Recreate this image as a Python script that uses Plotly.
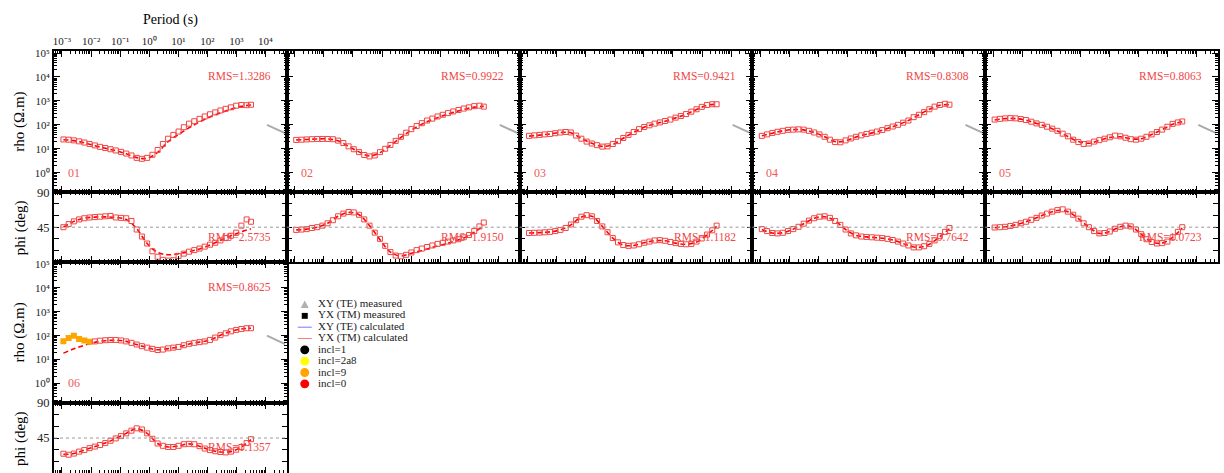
import plotly.graph_objects as go

# ---------------- data (log10 values) ----------------
LOGT = [-2.95, -2.77, -2.59, -2.41, -2.23, -2.05, -1.87, -1.69, -1.51, -1.33, -1.15, -0.97,
        -0.79, -0.61, -0.43, -0.25, -0.07, 0.11, 0.29, 0.47, 0.65, 0.83, 1.01, 1.19, 1.37,
        1.55, 1.73, 1.91, 2.09, 2.27, 2.45, 2.63, 2.81, 2.99, 3.17, 3.35, 3.5]
LOGT_CALC = [-2.95, -2.59, -2.23, -1.87, -1.51, -1.15, -0.79, -0.43, -0.07, 0.29, 0.65, 1.01,
             1.37, 1.73, 2.09, 2.45, 2.81, 3.17, 3.5]

STATIONS = ["01", "02", "03", "04", "05", "06"]
RMS_RHO = ["1.3286", "0.9922", "0.9421", "0.8308", "0.8063", "0.8625"]
RMS_PHI = ["2.5735", "1.9150", "1.1182", "0.7642", "1.0723", "1.1357"]

# measured apparent resistivity, log10(ohm.m)
RHO_01 = [1.39, 1.38, 1.35, 1.31, 1.26, 1.2, 1.14, 1.08, 1.03, 0.98, 0.93, 0.87, 0.8, 0.72, 0.62,
          0.58, 0.62, 0.75, 0.95, 1.2, 1.42, 1.58, 1.72, 1.9, 2.05, 2.15, 2.25, 2.35, 2.44, 2.52,
          2.6, 2.67, 2.73, 2.8, 2.83, 2.82, 2.84]
RHO_02 = [1.37, 1.38, 1.39, 1.4, 1.41, 1.41, 1.41, 1.4, 1.34, 1.24, 1.1, 0.98, 0.86, 0.74, 0.68,
          0.72, 0.86, 1.0, 1.16, 1.33, 1.5, 1.67, 1.82, 1.95, 2.07, 2.18, 2.26, 2.35, 2.42, 2.49,
          2.56, 2.62, 2.68, 2.73, 2.78, 2.8, 2.76]
RHO_03 = [1.54, 1.56, 1.58, 1.6, 1.62, 1.65, 1.68, 1.7, 1.68, 1.55, 1.42, 1.3, 1.22, 1.15, 1.09,
          1.1, 1.2, 1.32, 1.45, 1.58, 1.7, 1.82, 1.91, 1.98, 2.05, 2.1, 2.16, 2.22, 2.3, 2.37,
          2.45, 2.55, 2.65, 2.75, 2.83, 2.86, 2.86]
RHO_04 = [1.54, 1.6, 1.66, 1.71, 1.75, 1.79, 1.8, 1.81, 1.8, 1.75, 1.68, 1.6, 1.5, 1.38, 1.28,
          1.27, 1.35, 1.43, 1.5, 1.56, 1.62, 1.67, 1.72, 1.78, 1.86, 1.93, 2.0, 2.09, 2.18, 2.32,
          2.42, 2.53, 2.65, 2.76, 2.83, 2.88, 2.84]
RHO_05 = [2.22, 2.25, 2.27, 2.28, 2.27, 2.24, 2.2, 2.13, 2.06, 2.0, 1.92, 1.84, 1.75, 1.63, 1.52,
          1.38, 1.28, 1.2, 1.22, 1.3, 1.36, 1.42, 1.48, 1.55, 1.52, 1.46, 1.4, 1.38, 1.42, 1.5,
          1.6, 1.7, 1.8, 1.92, 2.04, 2.1, 2.14]
RHO_06_INCL9 = [1.77, 1.9, 2.0, 1.86, 1.8, 1.75]          # first six periods (incl=9)
RHO_06 = [1.76, 1.79, 1.81, 1.82, 1.82, 1.8, 1.76, 1.7, 1.63, 1.56, 1.5, 1.45, 1.4, 1.42, 1.47,
          1.5, 1.53, 1.6, 1.66, 1.7, 1.73, 1.76, 1.82, 1.92, 2.02, 2.1, 2.18, 2.24, 2.28, 2.31,
          2.31]                                          # remaining periods (incl=0)

# calculated apparent resistivity, log10(ohm.m), on LOGT_CALC
RHOC_01 = [1.38, 1.34, 1.25, 1.13, 1.02, 0.92, 0.79, 0.63, 0.6, 0.85, 1.3, 1.6, 1.88, 2.12, 2.33,
           2.5, 2.65, 2.77, 2.83]
RHOC_02 = [1.37, 1.39, 1.41, 1.41, 1.33, 1.1, 0.87, 0.7, 0.84, 1.14, 1.47, 1.78, 2.03, 2.22, 2.38,
           2.52, 2.64, 2.74, 2.77]
RHOC_03 = [1.53, 1.57, 1.62, 1.68, 1.67, 1.43, 1.23, 1.1, 1.18, 1.44, 1.69, 1.9, 2.04, 2.15, 2.29,
           2.44, 2.64, 2.82, 2.86]
RHOC_04 = [1.54, 1.65, 1.75, 1.8, 1.79, 1.68, 1.5, 1.3, 1.33, 1.49, 1.61, 1.71, 1.85, 2.0, 2.18,
           2.42, 2.65, 2.82, 2.84]
RHOC_05 = [2.2, 2.26, 2.26, 2.19, 2.06, 1.92, 1.74, 1.51, 1.3, 1.23, 1.35, 1.47, 1.5, 1.42, 1.42,
           1.6, 1.8, 2.02, 2.13]
RHOC_06 = [1.27, 1.45, 1.6, 1.72, 1.79, 1.81, 1.76, 1.63, 1.5, 1.41, 1.46, 1.53, 1.65, 1.73, 1.82,
           2.02, 2.18, 2.28, 2.31]

# measured phase (deg)
PHI_01 = [45, 49, 52.5, 55, 56.5, 57.5, 58, 58.5, 59, 59.5, 57.5, 57, 56.5, 53, 42, 33, 24, 14, 7,
          3, 2, 2.5, 8, 11, 13.5, 15.5, 17.5, 20, 22.5, 25, 28, 31, 34, 38, 47, 55, 52]
PHI_02 = [41.5, 42, 42.5, 44, 45, 47, 50, 54, 59, 62.5, 64.5, 64, 61, 55, 47, 38, 30, 21, 13, 8.5,
          7.5, 9.5, 12.5, 15.5, 17.5, 19.5, 21.5, 23.5, 25, 26.5, 28, 29.5, 32, 35, 40, 46, 51]
PHI_03 = [37.5, 37.8, 38, 38.4, 39, 40, 41.5, 44, 48.5, 54, 58.5, 60.5, 59, 53, 46, 38.5, 31, 25.5,
          22, 21, 21.5, 23, 25, 26.5, 28, 28.3, 27.5, 26, 24.5, 23.5, 23, 23.5, 26.5, 30.5, 35.5,
          41, 47]
PHI_04 = [42.5, 40, 37.5, 37, 37.8, 40, 42.5, 45.5, 49.5, 53.5, 56.5, 58.5, 59, 57, 53, 48, 42, 37,
          34.5, 33, 32.5, 32, 31.5, 31, 30, 28.5, 26.5, 24, 21.5, 19, 19, 20.5, 23.5, 28, 33.5,
          39, 44]
PHI_05 = [44.6, 45, 45.5, 46.5, 48, 50, 52, 54.5, 57, 60, 62.5, 65, 67, 68, 65, 61, 56, 50, 45, 40,
          37, 37.5, 39.5, 43, 45.5, 47, 46, 42, 36, 29.5, 26, 24, 24.5, 26.5, 32, 39, 45]
PHI_06 = [24.8, 23.5, 25, 27.5, 29.5, 32, 34, 36, 38.5, 41.5, 44.5, 47.5, 51, 54.5, 57.5, 56, 51,
          44, 38, 35, 33.5, 33.5, 35, 37, 37.5, 37, 34.5, 31.5, 29.5, 28, 27, 26.5, 27.5, 30,
          33.5, 38.5, 43.5]

# calculated phase (deg), on LOGT_CALC
PHIC_01 = [45, 52.5, 56.5, 58, 58.3, 57.5, 55, 43, 24, 12.5, 9.5, 11, 13.5, 17, 22, 28, 34, 39, 43]
PHIC_02 = [41.5, 42.5, 45, 50, 59, 64, 61, 47, 29, 13, 8, 11.5, 15, 19, 22.5, 26.5, 31, 38.5, 47]
PHIC_03 = [37.5, 38, 39, 41.5, 48, 58, 59, 46, 31, 22, 21.5, 25, 27.5, 27.5, 24.5, 23, 26, 35, 46]
PHIC_04 = [42, 37.5, 37.8, 42.5, 49.5, 56.5, 58.5, 53, 42, 34.5, 32.5, 31.5, 30, 26.5, 21.5, 19,
           23, 33, 43]
PHIC_05 = [44.5, 45.5, 48, 52, 57, 62.5, 66.5, 65, 56, 45, 37, 39.5, 45.5, 46, 36, 26, 24.5, 32, 44]
PHIC_06 = [24, 25, 29.5, 34, 38.5, 44.5, 51, 57, 51, 38, 33.5, 35, 37.5, 34.5, 29.5, 27, 27.5,
           33.5, 43]

# short grey segment drawn at the right edge of every rho panel
SEG_LOGT = [4.05, 4.67]
SEG_LOGRHO = [2.0, 1.65]

X_DECADES = [-3, -2, -1, 0, 1, 2, 3, 4]
RHO_DECADES = [0, 1, 2, 3, 4, 5]
PHI_LABELLED = [45, 90]
PHI_MINOR = [0, 15, 30, 60, 75]

# ---------------- figure ----------------
W, H = 1224, 473
FONT = "Liberation Serif"
RED = "rgb(240,70,70)"
SUPS = {"0": "⁰", "1": "¹", "2": "²", "3": "³", "4": "⁴", "5": "⁵", "-": "⁻"}

rho_meas = [RHO_01, RHO_02, RHO_03, RHO_04, RHO_05, None]
rho_calc = [RHOC_01, RHOC_02, RHOC_03, RHOC_04, RHOC_05, RHOC_06]
phi_meas = [PHI_01, PHI_02, PHI_03, PHI_04, PHI_05, PHI_06]
phi_calc = [PHIC_01, PHIC_02, PHIC_03, PHIC_04, PHIC_05, PHIC_06]


def px(x):
    return x / W


def py(y):
    return 1 - y / H


def sup(n):
    return "10" + "".join(SUPS[c] for c in str(n))


x_major = [10.0 ** d for d in X_DECADES]
x_minor = [m * 10.0 ** d for d in range(-4, 5) for m in range(2, 10)]
r_major = [10.0 ** d for d in RHO_DECADES]
r_minor = [m * 10.0 ** d for d in range(-1, 6) for m in range(2, 10)]

fig = go.Figure()
layout = dict(width=W, height=H, margin=dict(l=0, r=0, t=0, b=0),
              paper_bgcolor="white", plot_bgcolor="white", showlegend=False,
              font=dict(family=FONT, color="black"))
shapes = []
annotations = []

MARK = dict(symbol="square-open", size=5, color=RED, line=dict(width=1, color=RED))
DASH = dict(color="red", width=1.6, dash="5px,3px", shape="spline")
UP = 3  # small upward nudge for free text (px)

PANEL_W = 233
for i in range(6):
    col = i if i < 5 else 0
    row = 0 if i < 5 else 1
    x0 = 53 + PANEL_W * col
    x1 = x0 + PANEL_W
    top = 45 + 214 * row
    mid = top + 143
    bot = mid + 71
    nr, npf = 2 * i + 1, 2 * i + 2
    kx_r = "xaxis" if nr == 1 else f"xaxis{nr}"
    ky_r = "yaxis" if nr == 1 else f"yaxis{nr}"
    kx_p, ky_p = f"xaxis{npf}", f"yaxis{npf}"
    tr_x_r = "x" if nr == 1 else f"x{nr}"
    tr_y_r = "y" if nr == 1 else f"y{nr}"
    tr_x_p, tr_y_p = f"x{npf}", f"y{npf}"

    common = dict(showline=True, linecolor="black", linewidth=2, mirror="allticks",
                  ticks="inside", tickcolor="black", tickwidth=1, showgrid=False,
                  zeroline=False, tickfont=dict(family=FONT, size=11, color="#222"))
    xcommon = dict(common, type="log", range=[-3.275, 4.73], domain=[px(x0), px(x1)],
                   tickmode="array", tickvals=x_major,
                   ticktext=[sup(d) for d in X_DECADES], ticklen=6,
                   minor=dict(ticks="inside", ticklen=3, tickcolor="black",
                              tickmode="array", tickvals=x_minor))
    show_top = (i == 0)
    layout[kx_r] = dict(xcommon, anchor=tr_y_r, side="top" if show_top else "bottom",
                        showticklabels=show_top)
    layout[kx_p] = dict(xcommon, anchor=tr_y_p, showticklabels=False)
    layout[ky_r] = dict(common, type="log", range=[-0.815, 5.07], domain=[py(mid), py(top)],
                        anchor=tr_x_r, tickmode="array", tickvals=r_major,
                        ticktext=[sup(d) for d in RHO_DECADES], ticklen=6,
                        showticklabels=(col == 0),
                        minor=dict(ticks="inside", ticklen=3, tickcolor="black",
                                   tickmode="array", tickvals=r_minor))
    layout[ky_p] = dict(common, range=[0, 90], domain=[py(bot), py(mid)], anchor=tr_x_p,
                        tickmode="array", tickvals=PHI_LABELLED,
                        ticktext=[str(v) for v in PHI_LABELLED], ticklen=5,
                        showticklabels=(col == 0),
                        tickfont=dict(family=FONT, size=12.5, color="#222"),
                        minor=dict(ticks="inside", ticklen=5, tickcolor="black",
                                   tickmode="array", tickvals=PHI_MINOR))

    # calculated rho (dashed)
    fig.add_trace(go.Scatter(x=[10 ** t for t in LOGT_CALC], y=[10 ** v for v in rho_calc[i]],
                             mode="lines", line=DASH,
                             xaxis=tr_x_r, yaxis=tr_y_r, name="YX (TM) calculated"))
    # measured rho
    if i < 5:
        fig.add_trace(go.Scatter(x=[10 ** t for t in LOGT], y=[10 ** v for v in rho_meas[i]],
                                 mode="markers", marker=MARK,
                                 xaxis=tr_x_r, yaxis=tr_y_r, name="YX (TM) measured"))
    else:
        n9 = len(RHO_06_INCL9)
        fig.add_trace(go.Scatter(x=[10 ** t for t in LOGT[:n9]],
                                 y=[10 ** v for v in RHO_06_INCL9], mode="markers",
                                 marker=dict(symbol="square", size=6, color="orange"),
                                 xaxis=tr_x_r, yaxis=tr_y_r, name="incl=9"))
        fig.add_trace(go.Scatter(x=[10 ** t for t in LOGT[n9:]], y=[10 ** v for v in RHO_06],
                                 mode="markers", marker=MARK,
                                 xaxis=tr_x_r, yaxis=tr_y_r, name="YX (TM) measured"))
    # grey segment
    fig.add_trace(go.Scatter(x=[10 ** t for t in SEG_LOGT], y=[10 ** v for v in SEG_LOGRHO],
                             mode="lines", line=dict(color="#aaaaaa", width=2),
                             xaxis=tr_x_r, yaxis=tr_y_r, cliponaxis=False, name="XY"))
    # calculated and measured phase
    fig.add_trace(go.Scatter(x=[10 ** t for t in LOGT_CALC], y=phi_calc[i], mode="lines",
                             line=DASH, xaxis=tr_x_p, yaxis=tr_y_p, name="YX (TM) calculated"))
    fig.add_trace(go.Scatter(x=[10 ** t for t in LOGT], y=phi_meas[i], mode="markers",
                             marker=MARK, xaxis=tr_x_p, yaxis=tr_y_p, name="YX (TM) measured"))

    # 45 degree reference line
    shapes.append(dict(type="line", xref=f"{tr_x_p} domain", yref=tr_y_p, x0=0, x1=1,
                       y0=45, y1=45, line=dict(color="#999999", width=1, dash="dot")))

    # annotations
    annotations.append(dict(text="RMS=" + RMS_RHO[i], xref=f"{tr_x_r} domain",
                            yref=f"{tr_y_r} domain", x=1 - 14 / PANEL_W,
                            y=1 - (28 - UP) / 143,
                            xanchor="right", yanchor="middle", showarrow=False,
                            font=dict(family=FONT, size=11.5, color=RED)))
    annotations.append(dict(text="RMS=" + RMS_PHI[i], xref=f"{tr_x_p} domain",
                            yref=f"{tr_y_p} domain", x=1 - 14 / PANEL_W,
                            y=1 - (48 - UP) / 71,
                            xanchor="right", yanchor="middle", showarrow=False,
                            font=dict(family=FONT, size=11.5, color=RED)))
    annotations.append(dict(text=STATIONS[i], xref=f"{tr_x_r} domain",
                            yref=f"{tr_y_r} domain", x=12 / PANEL_W, y=1 - (126 - UP) / 143,
                            xanchor="left", yanchor="middle", showarrow=False,
                            font=dict(family=FONT, size=12, color="rgb(240,90,90)")))
    if col == 0:
        annotations.append(dict(text="rho (Ω.m)", xref="paper", yref="paper", x=px(19),
                                y=py((top + mid) / 2), textangle=-90, showarrow=False,
                                xanchor="center", yanchor="middle",
                                font=dict(family=FONT, size=15, color="black")))
        annotations.append(dict(text="phi (deg)", xref="paper", yref="paper", x=px(19),
                                y=py((mid + bot) / 2), textangle=-90, showarrow=False,
                                xanchor="center", yanchor="middle",
                                font=dict(family=FONT, size=15, color="black")))

annotations.append(dict(text="Period (s)", xref="paper", yref="paper", x=px(170),
                        y=py(16 - UP), showarrow=False, xanchor="center", yanchor="middle",
                        font=dict(family=FONT, size=14, color="black")))

# ---------------- manual legend ----------------
LEGEND_LABELS = ["XY (TE) measured", "YX (TM) measured", "XY (TE) calculated",
                 "YX (TM) calculated", "incl=1", "incl=2a8", "incl=9", "incl=0"]
ly = [302, 313.5, 325, 336.5, 348, 359.5, 371, 382.5]
sx = 304
shapes.append(dict(type="path", xref="paper", yref="paper",
                   path=f"M {px(sx)},{py(ly[0]-4)} L {px(sx-4)},{py(ly[0]+3.5)} "
                        f"L {px(sx+4)},{py(ly[0]+3.5)} Z",
                   fillcolor="#b0b0b0", line=dict(width=0)))
shapes.append(dict(type="rect", xref="paper", yref="paper", x0=px(sx - 3), x1=px(sx + 3),
                   y0=py(ly[1] + 3), y1=py(ly[1] - 3), fillcolor="black", line=dict(width=0)))
shapes.append(dict(type="line", xref="paper", yref="paper", x0=px(297), x1=px(311),
                   y0=py(ly[2]), y1=py(ly[2]), line=dict(color="rgb(120,120,255)", width=1)))
shapes.append(dict(type="line", xref="paper", yref="paper", x0=px(297), x1=px(311),
                   y0=py(ly[3]), y1=py(ly[3]), line=dict(color="rgb(255,120,120)", width=1)))
for yy, c in zip(ly[4:], ["black", "yellow", "orange", "red"]):
    shapes.append(dict(type="circle", xref="paper", yref="paper", x0=px(sx - 4.5),
                       x1=px(sx + 4.5), y0=py(yy + 4.5), y1=py(yy - 4.5), fillcolor=c,
                       line=dict(width=0)))
for yy, lab in zip(ly, LEGEND_LABELS):
    annotations.append(dict(text=lab, xref="paper", yref="paper", x=px(315), y=py(yy - 1),
                            xanchor="left", yanchor="middle", showarrow=False,
                            font=dict(family=FONT, size=11, color="#222")))

layout["shapes"] = shapes
layout["annotations"] = annotations
fig.update_layout(**layout)
fig.write_html("out.html", config={"displayModeBar": False},
               post_script="document.body.style.margin='0';document.body.style.padding='0';")
